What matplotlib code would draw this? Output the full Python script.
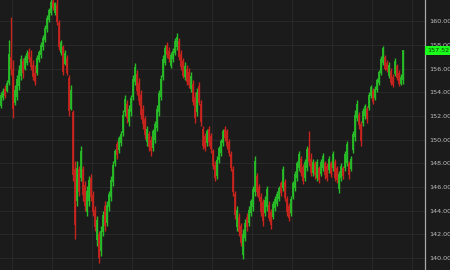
import matplotlib
matplotlib.use("Agg")
import matplotlib.pyplot as plt
import numpy as np

highs = [153.98, 154.32, 154.58, 155.0, 158.39, 160.34, 156.7, 154.58, 155.42, 156.27,
         157.12, 156.87, 157.12, 157.54, 157.71, 157.54, 156.7, 156.27, 157.12, 157.54,
         158.22, 158.81, 159.66, 160.51, 161.1, 161.9, 162.1, 161.61, 161.9, 160.08,
         158.39, 157.97, 157.54, 157.12, 155.42, 154.58, 152.46, 148.22, 148.22, 147.8,
         149.49, 147.8, 146.53, 146.1, 146.95, 147.12, 145.68, 144.41, 143.56, 142.29,
         142.71, 143.98, 144.83, 144.83, 145.68, 146.95, 148.22, 149.24, 149.92, 150.34,
         150.76, 152.46, 153.73, 153.31, 152.88, 153.73, 155.42, 156.44, 155.85, 155.17,
         154.15, 152.88, 152.03, 151.19, 150.76, 150.34, 150.93, 151.61, 152.88, 154.15,
         155.42, 157.12, 157.97, 158.22, 157.8, 157.37, 157.71, 158.56, 158.98, 158.56,
         157.54, 156.87, 156.53, 156.27, 156.02, 155.68, 155.0, 153.98, 154.32, 154.83,
         153.31, 151.19, 150.59, 150.93, 151.19, 150.59, 149.24, 148.22, 148.64, 149.49,
         150.09, 150.93, 151.19, 150.93, 150.09, 149.07, 147.8, 145.68, 144.41, 143.81,
         142.97, 142.46, 143.31, 143.81, 144.41, 145.0, 146.1, 148.64, 147.2, 146.27,
         145.51, 145.0, 145.25, 146.1, 144.83, 144.15, 144.83, 145.25, 145.68, 146.1,
         146.53, 147.8, 146.7, 145.25, 144.66, 145.25, 146.53, 147.37, 148.22, 149.07,
         148.64, 147.97, 148.39, 149.49, 150.76, 148.9, 148.39, 148.22, 148.39, 147.8,
         148.39, 148.9, 148.22, 148.05, 148.64, 148.22, 149.07, 148.39, 147.8, 147.37,
         148.05, 147.8, 149.07, 149.92, 148.22, 148.64, 150.76, 152.46, 153.31, 152.29,
         151.61, 152.63, 152.97, 152.8, 153.98, 154.58, 154.32, 154.49, 155.17, 155.85,
         157.03, 157.88, 157.12, 156.7, 156.53, 156.02, 155.51, 156.87, 156.36, 155.85,
         155.51, 157.6]

lows = [152.63, 153.31, 153.47, 153.98, 154.58, 155.42, 151.86, 152.88, 153.31, 154.15,
        155.0, 155.17, 155.85, 156.27, 156.53, 155.85, 155.0, 154.58, 155.42, 156.53,
        156.87, 157.54, 158.22, 159.07, 159.92, 160.51, 160.93, 160.51, 159.66, 157.54,
        157.12, 155.42, 156.27, 155.42, 152.03, 152.46, 146.53, 141.61, 144.41, 145.25,
        146.53, 144.83, 143.98, 143.56, 144.41, 144.83, 143.56, 142.29, 141.02, 139.58,
        140.17, 141.86, 142.29, 142.71, 143.98, 144.83, 146.1, 147.8, 148.39, 148.9,
        149.49, 150.34, 152.03, 151.44, 151.19, 152.03, 153.31, 154.58, 153.73, 152.88,
        151.78, 150.93, 150.09, 149.49, 149.07, 148.64, 149.07, 149.75, 150.76, 152.03,
        153.31, 155.0, 156.27, 156.87, 156.53, 156.02, 156.53, 157.12, 157.54, 156.7,
        155.85, 155.17, 155.0, 154.58, 154.32, 153.98, 152.88, 151.44, 152.03, 152.88,
        151.19, 149.24, 149.07, 149.49, 149.49, 148.9, 147.54, 146.53, 146.7, 148.05,
        148.64, 149.49, 149.92, 149.24, 148.64, 147.37, 145.25, 143.31, 142.29, 141.86,
        141.02, 139.92, 141.44, 142.29, 142.71, 143.56, 143.98, 145.25, 145.25, 144.83,
        143.56, 142.71, 143.56, 143.98, 143.14, 142.46, 143.31, 143.98, 144.41, 144.83,
        145.25, 145.68, 144.83, 143.56, 143.14, 143.56, 145.0, 145.68, 146.53, 147.37,
        146.95, 146.27, 146.53, 147.37, 147.8, 146.95, 146.95, 146.7, 146.53, 146.36,
        146.95, 147.37, 146.7, 146.53, 147.2, 146.87, 147.37, 146.53, 146.36, 145.51,
        146.53, 146.7, 147.37, 147.8, 146.7, 147.37, 148.9, 149.92, 151.61, 150.93,
        149.49, 151.19, 151.78, 151.44, 152.46, 153.47, 152.97, 153.31, 153.98, 154.58,
        155.42, 156.27, 155.85, 155.68, 155.17, 154.58, 154.41, 155.34, 155.0, 154.49,
        154.58, 154.66]

opens = [152.8, 153.5, 154.3, 154.1, 154.8, 157.0, 156.0, 153.1, 153.6, 154.5,
         155.4, 156.6, 156.0, 156.5, 157.4, 157.0, 156.3, 155.6, 155.6, 156.7,
         157.1, 157.8, 158.4, 159.3, 160.1, 160.7, 161.7, 160.7, 161.4, 159.8,
         157.3, 157.8, 156.4, 156.9, 155.2, 152.6, 152.3, 147.5, 144.8, 147.5,
         146.8, 147.5, 146.2, 143.9, 144.8, 146.8, 145.3, 144.1, 141.5, 142.0,
         140.6, 142.2, 144.4, 143.0, 144.3, 145.2, 146.4, 148.0, 149.6, 149.1,
         149.7, 150.6, 152.3, 153.0, 151.5, 152.3, 153.6, 154.9, 155.5, 154.8,
         153.8, 152.6, 151.7, 149.8, 150.5, 150.0, 149.3, 150.0, 151.0, 152.3,
         153.6, 155.3, 156.5, 158.0, 157.5, 156.2, 156.8, 157.3, 157.8, 158.3,
         157.2, 156.6, 155.3, 156.0, 155.7, 154.3, 154.7, 153.6, 152.3, 154.5,
         153.0, 150.9, 150.3, 149.7, 150.9, 150.3, 149.0, 147.9, 146.9, 148.3,
         148.9, 149.7, 150.9, 150.7, 149.8, 148.8, 147.5, 145.4, 142.6, 143.5,
         142.7, 140.3, 141.7, 143.5, 143.0, 143.8, 144.3, 145.6, 146.9, 146.0,
         145.2, 144.7, 143.8, 144.3, 144.5, 143.9, 143.5, 144.2, 144.6, 145.0,
         146.3, 145.9, 146.4, 145.0, 144.4, 143.8, 145.2, 145.9, 146.8, 147.6,
         148.4, 147.7, 146.8, 147.6, 149.3, 148.4, 147.2, 148.0, 146.8, 147.6,
         147.1, 147.6, 148.0, 147.8, 147.4, 148.0, 147.6, 148.1, 147.6, 145.8,
         146.8, 147.6, 147.6, 148.0, 148.0, 147.5, 149.1, 150.2, 151.8, 152.1,
         151.3, 151.4, 152.0, 152.6, 152.7, 153.7, 154.1, 153.5, 154.2, 154.8,
         155.6, 156.5, 157.0, 156.5, 155.4, 155.8, 155.3, 155.5, 156.2, 155.6,
         154.7, 155.0]

closes = [153.8, 154.1, 153.7, 154.8, 157.2, 156.0, 152.6, 154.2, 155.1, 155.9,
          156.8, 155.6, 156.9, 157.3, 156.8, 156.1, 155.3, 154.9, 156.9, 157.4,
          158.0, 158.6, 159.4, 160.3, 160.9, 161.6, 161.1, 161.5, 159.9, 157.8,
          158.2, 155.7, 157.3, 155.6, 152.4, 154.2, 147.0, 142.8, 147.6, 145.6,
          149.0, 145.3, 144.4, 145.7, 146.6, 145.2, 143.9, 142.6, 143.2, 140.0,
          142.3, 143.6, 142.7, 144.5, 145.4, 146.6, 147.9, 149.0, 148.7, 150.1,
          150.5, 152.1, 153.4, 151.8, 152.6, 153.5, 155.1, 156.1, 154.1, 153.3,
          152.1, 151.3, 150.4, 150.9, 149.4, 149.0, 150.7, 151.3, 152.6, 153.9,
          155.1, 156.8, 157.7, 157.1, 156.8, 157.1, 157.5, 158.3, 158.7, 157.0,
          156.1, 155.4, 156.2, 154.9, 154.6, 155.4, 153.2, 151.8, 154.0, 153.1,
          151.5, 149.5, 149.3, 150.7, 149.8, 149.2, 147.8, 146.8, 148.3, 149.3,
          149.9, 150.7, 150.1, 149.5, 148.9, 147.6, 145.6, 143.6, 144.1, 142.2,
          141.3, 142.0, 143.0, 142.6, 144.1, 144.8, 145.8, 148.2, 145.6, 145.1,
          143.9, 143.1, 144.9, 145.8, 143.4, 142.8, 144.6, 145.0, 145.4, 145.9,
          145.5, 147.5, 145.1, 143.9, 143.4, 145.0, 146.3, 147.1, 148.0, 148.8,
          147.2, 146.5, 148.1, 149.2, 148.1, 147.2, 148.1, 147.0, 148.1, 146.6,
          148.1, 148.6, 147.0, 146.8, 148.4, 147.1, 148.8, 146.8, 146.6, 147.1,
          147.8, 146.9, 148.8, 149.6, 147.0, 148.4, 150.5, 152.1, 153.0, 151.2,
          149.9, 152.4, 152.8, 151.7, 153.8, 154.4, 153.2, 154.3, 155.0, 155.7,
          156.8, 157.7, 156.0, 155.9, 156.3, 154.8, 154.6, 156.6, 155.2, 154.7,
          155.3, 157.52]

y_ticks = [140, 142, 144, 146, 148, 150, 152, 154, 156, 158, 160]
last_price = closes[-1]

BG = "#1b1b1b"
GRID = "#2b2b2b"
UP = "#28bd28"
DOWN = "#c8241e"

fig = plt.figure(figsize=(4.5, 2.7), dpi=100, facecolor=BG)
ax = fig.add_axes([0, 0, 425 / 450, 1])
ax.set_facecolor(BG)

n = len(closes)
idx = np.arange(n)
o = np.array(opens)
c = np.array(closes)
h = np.array(highs)
l = np.array(lows)
up = c >= o
cols = [UP if u else DOWN for u in up]

ax.vlines(idx, l, h, colors=cols, linewidth=1.0, zorder=3)
ax.vlines(idx, np.minimum(o, c), np.maximum(o, c), colors=cols, linewidth=1.3, zorder=3)

ax.set_xlim(-0.5, 212)
ax.set_ylim(139.0, 161.78)

# grid
for k in range(11):
    ax.axvline(5.5 + 20 * k, color=GRID, linewidth=0.6, zorder=1)
for t in y_ticks:
    ax.axhline(t, color=GRID, linewidth=0.6, zorder=1)

ax.set_xticks([])
ax.yaxis.tick_right()
ax.set_yticks(y_ticks)
ax.set_yticklabels([f"{t:.2f}" for t in y_ticks])
ax.tick_params(axis="y", length=0, pad=3, labelsize=4.6, colors="#c0c0c0")

for s in ["top", "bottom", "left"]:
    ax.spines[s].set_visible(False)
ax.spines["right"].set_color("#a8a8a8")
ax.spines["right"].set_linewidth(0.9)

# last price tag
ax.annotate(f"{last_price:.2f}", xy=(1.0, last_price), xycoords=("axes fraction", "data"),
            xytext=(1.5, 0), textcoords="offset points", ha="left", va="center",
            fontsize=4.6, color="#0a3a0a",
            bbox=dict(boxstyle="square,pad=0.3", fc="#19ff19", ec="none"),
            annotation_clip=False, zorder=5)

fig.savefig("out.png", dpi=100, facecolor=BG)
